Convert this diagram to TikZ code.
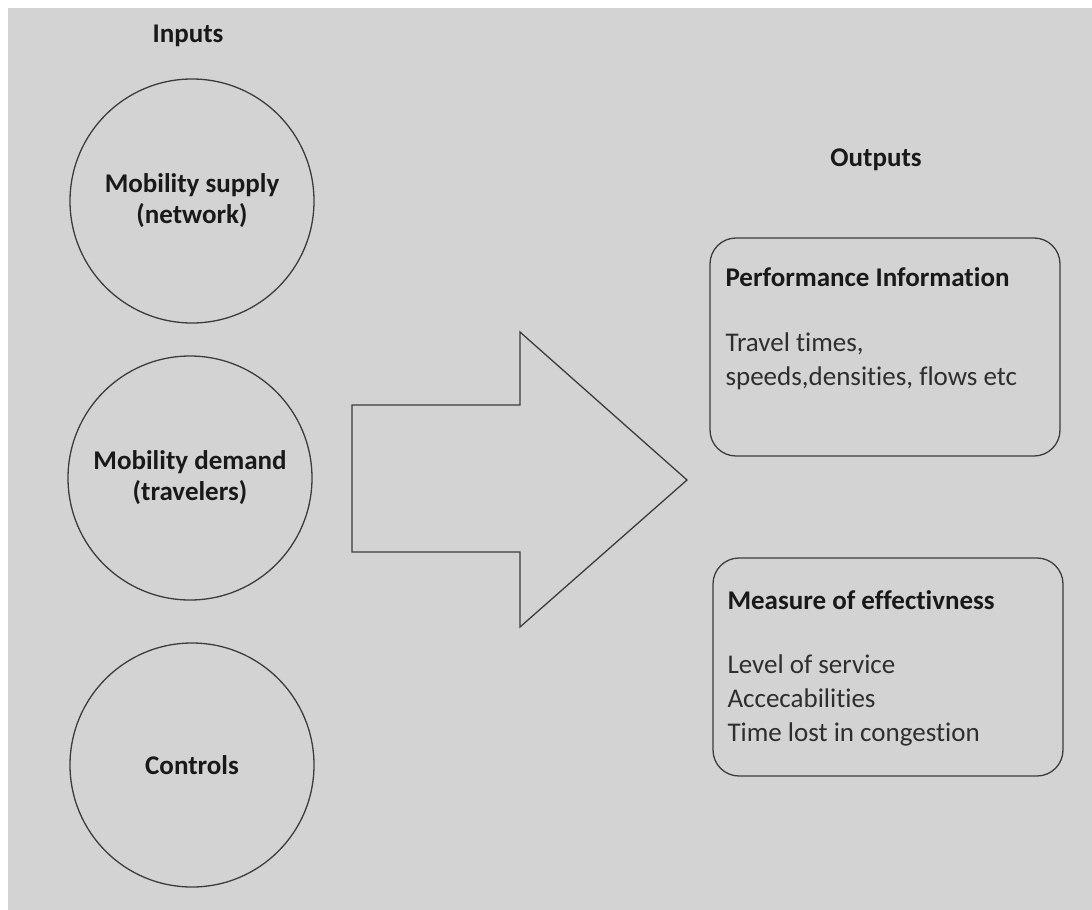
\documentclass[tikz,border=0pt]{standalone}
\usepackage{fontspec}
\setmainfont{Carlito}[Ligatures = {NoCommon}]
\usepackage{xcolor}
\definecolor{PanelGray}{HTML}{D3D3D3}
\definecolor{LineGray}{HTML}{3C3C3C}
\definecolor{TextGray}{HTML}{2E2E2E}
\colorlet{TitleBlack}{black!90}
\tikzset{
	inputcircle/.style = {
		shape        = circle,
		draw         = LineGray,
		line width   = 1.3pt,
		minimum size = 244pt,
		inner sep    = 0pt,
		align        = center,
		text         = TitleBlack,
		font         = \fontsize{27}{31}\selectfont\bfseries,
	},
	outputbox/.style = {
		shape           = rectangle,
		draw            = LineGray,
		line width      = 1.3pt,
		rounded corners = 26pt,
		minimum width   = 350pt,
		minimum height  = 218pt,
	},
	headlabel/.style = {
		text = TitleBlack,
		font = \fontsize{27}{31}\selectfont\bfseries,
	},
	bodytext/.style = {
		anchor = west,
		align  = left,
		text   = TextGray,
		font   = \fontsize{27}{34}\selectfont,
	},
}

\begin{document}
\begin{tikzpicture}[x = 1pt, y = -1pt]
                    \useasboundingbox (0, 0) rectangle (1092, 910);
                    \fill[PanelGray] (8, 8) rectangle (1092, 910);

                    % inputs
                    \node (inputs) [headlabel] at (188, 36) {Inputs};
                    \node (supply)   [inputcircle] at (192, 201) {Mobility supply\\(network)};
                    \node (demand)   [inputcircle] at (190, 478) {Mobility demand\\(travelers)};
                    \node (controls) [inputcircle] at (192, 765) {Controls};

                    % block arrow
                    \coordinate (ShaftTL) at (352, 405);
                    \coordinate (ShaftBL) at (352, 552);
                    \coordinate (HeadT)   at (520, 332);
                    \coordinate (HeadB)   at (520, 627);
                    \coordinate (Tip)     at (687, 480);
                    \draw[LineGray, line width = 1.3pt, line join = miter]
                        (ShaftTL) -- (HeadT |- ShaftTL) -- (HeadT) -- (Tip)
                        -- (HeadB) -- (HeadB |- ShaftBL) -- (ShaftBL) -- cycle;

                    % outputs
                    \node (outputs) [headlabel] at (876, 160) {Outputs};

                    \node (perf) [outputbox] at (885, 347) {};
                    \node (perftitle) [headlabel, anchor = west] at (722, 277) {Performance Information};
                    \node (perfbody)  [bodytext] at (722, 361) {Travel times,\\speeds,densities, flows etc};

                    \node (moe) [outputbox] at (888, 667) {};
                    \node (moetitle) [headlabel, anchor = west] at (724, 600) {Measure of effectivness};
                    \node (moebody)  [bodytext] at (724, 700) {Level of service\\Accecabilities\\Time lost in congestion};
                \end{tikzpicture}
\end{document}
